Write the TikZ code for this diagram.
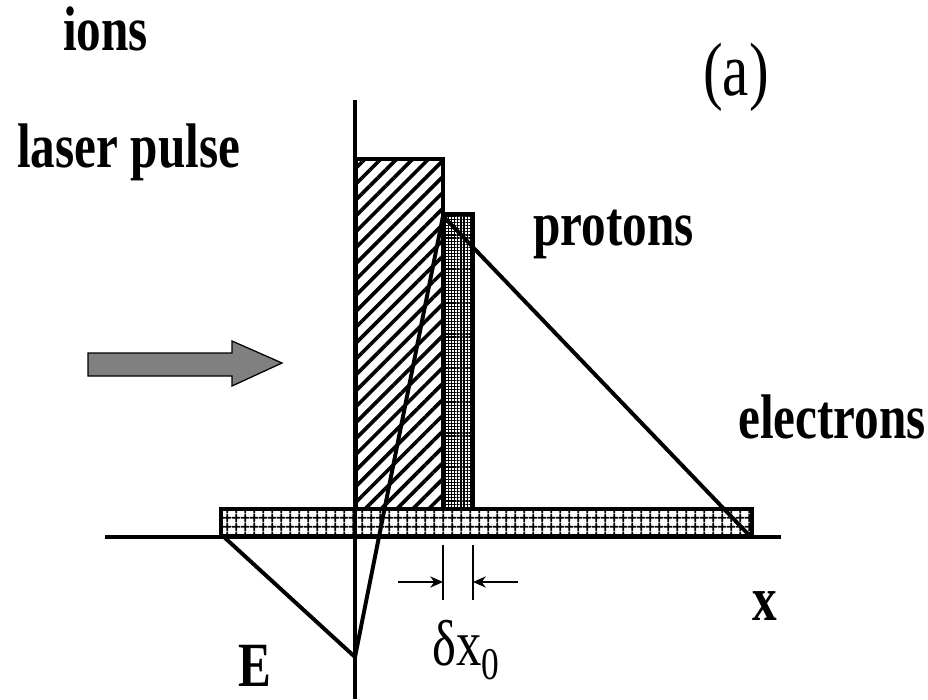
\documentclass[tikz,border=0pt]{standalone}
\usepackage{fontspec}
\setmainfont{Liberation Serif}
\usepackage{graphicx}
\usetikzlibrary{arrows.meta, patterns.meta}
\definecolor{ink}{RGB}{0, 0, 0}
\definecolor{pulse}{RGB}{128, 128, 128}
\newcommand{\tallbox}[1]{\scalebox{1}[1.28]{#1}}
\tikzset{
    lbl/.style={inner sep=0pt, anchor=base west, font=\fontsize{35}{40}\selectfont\bfseries},
    thin lbl/.style={inner sep=0pt, anchor=base west, font=\fontsize{36}{40}\selectfont},
    axis/.style={draw=ink, line width=3pt},
    ionbox/.style={draw=ink, line width=3.4pt, pattern={Lines[angle=45, distance=8pt, line width=2.6pt]}},
    protonbox/.style={draw=ink, line width=3.4pt, pattern={Hatch[angle=0, distance=2.2pt, line width=0.8pt]}},
    electronbox/.style={draw=ink, line width=3.4pt, pattern={Hatch[angle=0, distance=6.5pt, line width=1.4pt]}},
    field/.style={draw=ink, line width=2.8pt, line join=miter},
    gap/.style={draw=ink, line width=0.9pt},
    gaparr/.style={-{Stealth[length=3.2mm, width=2.8mm]}, draw=ink, line width=0.9pt},
    laser/.style={draw=ink, line width=0.9pt, fill=pulse}
}
\begin{document}
\begin{tikzpicture}[x=0.025cm, y=-0.025cm]
    \useasboundingbox (0,0) rectangle (928,699);
    % slabs: ions, protons, electron layer
    \draw[electronbox] (221,509) rectangle (752,536);
    \draw[ionbox] (356,159) rectangle (443,509);
    \draw[protonbox] (443,214) rectangle (473,509);
    % axes
    \draw[axis] (105,537) -- (781,537);
    \draw[axis] (355,100) -- (355,699);
    % field profile
    \coordinate (e0) at (224,537);
    \coordinate (emin) at (355,657);
    \coordinate (epeak) at (443,216);
    \coordinate (eend) at (748,534);
    \draw[field] (e0) -- (emin) -- (epeak) -- (eend);
    % width of the proton layer
    \coordinate (tickL) at (443,545);
    \coordinate (tickLb) at (443,600);
    \coordinate (tickR) at (473,545);
    \coordinate (tickRb) at (473,600);
    \coordinate (arrL) at (398,582);
    \coordinate (arrLe) at (443,582);
    \coordinate (arrR) at (518,582);
    \coordinate (arrRe) at (473,582);
    \draw[gap] (tickL) -- (tickLb);
    \draw[gap] (tickR) -- (tickRb);
    \draw[gaparr] (arrL) -- (arrLe);
    \draw[gaparr] (arrR) -- (arrRe);
    % laser pulse arrow
    \draw[laser] (88,353) -- (232,353) -- (232,341) -- (282,363) -- (232,386) -- (232,376) -- (88,376) -- cycle;
    % labels
    \node[lbl] (ions) at (63,50) {\tallbox{ions}};
    \node[lbl] (pulse) at (17,167) {\tallbox{laser pulse}};
    \node[lbl] (protons) at (533,245) {\tallbox{protons}};
    \node[lbl] (electrons) at (738,438) {\tallbox{electrons}};
    \node[lbl] (xlab) at (752,620) {\tallbox{x}};
    \node[lbl] (Elab) at (238,686) {\tallbox{E}};
    \node[thin lbl, font=\fontsize{42}{46}\selectfont] (panel) at (703,95) {\tallbox{(a)}};
    \node[thin lbl] (dx) at (432,665) {\tallbox{δx\textsubscript{0}}};
\end{tikzpicture}
\end{document}
